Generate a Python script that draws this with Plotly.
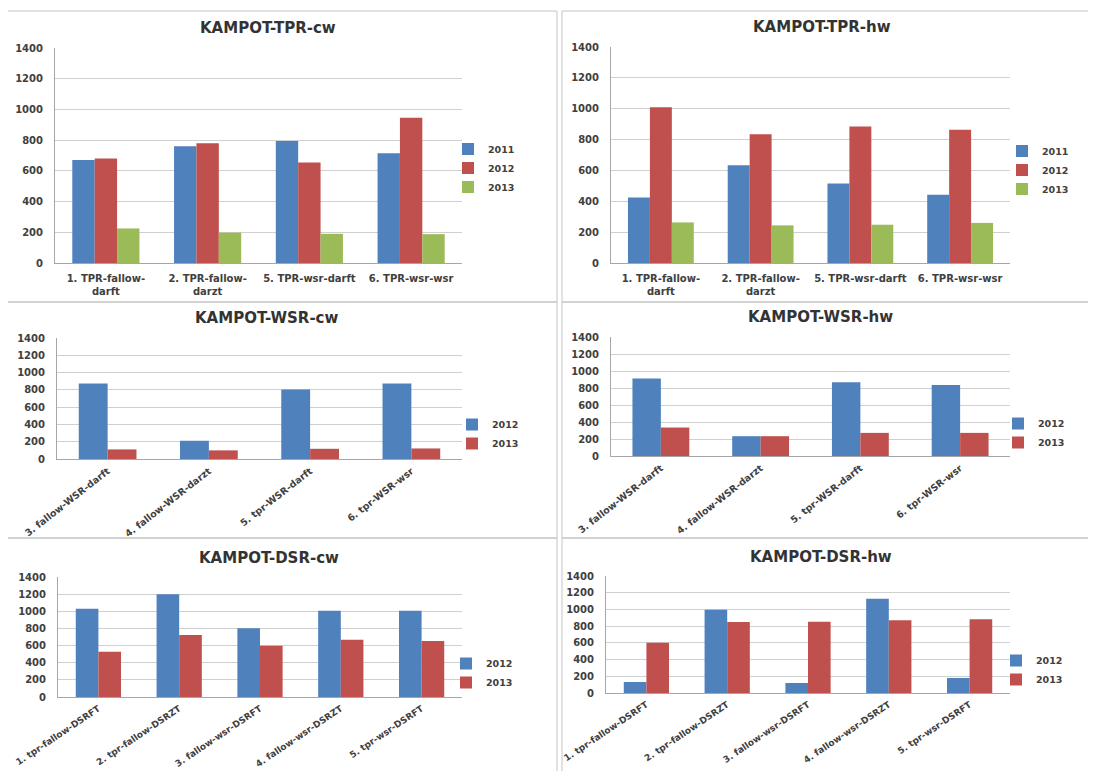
import plotly.graph_objects as go

W, H = 1096, 771
# the page body has an 8px default margin; positions below are given in
# screenshot pixels and shifted by it
OFF = 8

# ---------------- data ----------------
tpr_categories = ["1. TPR-fallow-darft", "2. TPR-fallow-darzt", "5. TPR-wsr-darft", "6. TPR-wsr-wsr"]
wsr_categories = ["3. fallow-WSR-darft", "4. fallow-WSR-darzt", "5. tpr-WSR-darft", "6. tpr-WSR-wsr"]
dsr_categories = ["1. tpr-fallow-DSRFT", "2. tpr-fallow-DSRZT", "3. fallow-wsr-DSRFT",
                  "4. fallow-wsr-DSRZT", "5. tpr-wsr-DSRFT"]

tpr_cw_2011 = [670, 760, 795, 715]
tpr_cw_2012 = [680, 780, 655, 945]
tpr_cw_2013 = [225, 198, 190, 188]

tpr_hw_2011 = [425, 633, 515, 443]
tpr_hw_2012 = [1010, 834, 885, 863]
tpr_hw_2013 = [263, 244, 248, 260]

wsr_cw_2012 = [875, 211, 805, 875]
wsr_cw_2013 = [111, 100, 118, 122]

wsr_hw_2012 = [911, 233, 867, 836]
wsr_hw_2013 = [335, 233, 272, 272]

dsr_cw_2012 = [1030, 1200, 802, 1005, 1005]
dsr_cw_2013 = [528, 724, 598, 668, 653]

dsr_hw_2012 = [132, 997, 120, 1129, 180]
dsr_hw_2013 = [602, 850, 854, 870, 882]

y_ticks = [0, 200, 400, 600, 800, 1000, 1200, 1400]

# ---------------- styles ----------------
BLUE, RED, GREEN = "#4F81BD", "#C0504D", "#9BBB59"
FONT = "DejaVu Sans"
TXT = "#404040"


def px(x):
    return (x - OFF) / W


def py(y):
    return 1 - (y - OFF) / H


def wrap_tpr(label):
    return label.replace("fallow-", "fallow-<br>")


panels = [
    dict(title="KAMPOT-TPR-cw", cats=tpr_categories, ticktext=[wrap_tpr(c) for c in tpr_categories],
         series=[("2011", tpr_cw_2011, BLUE), ("2012", tpr_cw_2012, RED), ("2013", tpr_cw_2013, GREEN)],
         xd=(55, 462), yd=(48, 263), tpos=(268, 28), leg=(448, 168), angle=0, xfont=10, bw=0.22, xs=6),
    dict(title="KAMPOT-TPR-hw", cats=tpr_categories, ticktext=[wrap_tpr(c) for c in tpr_categories],
         series=[("2011", tpr_hw_2011, BLUE), ("2012", tpr_hw_2012, RED), ("2013", tpr_hw_2013, GREEN)],
         xd=(611, 1010), yd=(47, 263), tpos=(822, 27), leg=(1002, 170), angle=0, xfont=10, bw=0.22, xs=6),
    dict(title="KAMPOT-WSR-cw", cats=wsr_categories, ticktext=wsr_categories,
         series=[("2012", wsr_cw_2012, BLUE), ("2013", wsr_cw_2013, RED)],
         xd=(57, 462), yd=(338, 459), tpos=(267, 318), leg=(452, 434), angle=-38, xfont=9.5, bw=0.285, xs=2),
    dict(title="KAMPOT-WSR-hw", cats=wsr_categories, ticktext=wsr_categories,
         series=[("2012", wsr_hw_2012, BLUE), ("2013", wsr_hw_2013, RED)],
         xd=(611, 1010), yd=(337, 456), tpos=(820, 317), leg=(998, 433), angle=-38, xfont=9.5, bw=0.285, xs=2),
    dict(title="KAMPOT-DSR-cw", cats=dsr_categories, ticktext=dsr_categories,
         series=[("2012", dsr_cw_2012, BLUE), ("2013", dsr_cw_2013, RED)],
         xd=(58, 462), yd=(577, 697), tpos=(269, 558), leg=(446, 673), angle=-34, xfont=9, bw=0.28, xs=2),
    dict(title="KAMPOT-DSR-hw", cats=dsr_categories, ticktext=dsr_categories,
         series=[("2012", dsr_hw_2012, BLUE), ("2013", dsr_hw_2013, RED)],
         xd=(606, 1010), yd=(576, 693), tpos=(821, 557), leg=(996, 670), angle=-34, xfont=9, bw=0.28, xs=2),
]

fig = go.Figure()
layout = dict(
    width=W, height=H, margin=dict(l=0, r=0, t=0, b=0, autoexpand=False),
    paper_bgcolor="white", plot_bgcolor="white",
    barmode="group", showlegend=True,
    font=dict(family=FONT, color=TXT),
)
annotations = []
shapes = []

for i, p in enumerate(panels, start=1):
    xa = "x" if i == 1 else f"x{i}"
    ya = "y" if i == 1 else f"y{i}"
    lg = "legend" if i == 1 else f"legend{i}"
    n = len(p["series"])
    bw = p["bw"]
    for k, (name, vals, col) in enumerate(p["series"]):
        off = -n * bw / 2 + k * bw
        fig.add_trace(go.Bar(
            x=p["cats"], y=vals, name=name, marker=dict(color=col, line=dict(width=0)),
            width=bw, offset=off, xaxis=xa, yaxis=ya, legend=lg,
        ))
    xk = "xaxis" if i == 1 else f"xaxis{i}"
    yk = "yaxis" if i == 1 else f"yaxis{i}"
    layout[xk] = dict(
        domain=[px(p["xd"][0]), px(p["xd"][1])], anchor=ya,
        type="category", categoryorder="array", categoryarray=p["cats"],
        tickvals=p["cats"], ticktext=p["ticktext"], tickangle=p["angle"],
        range=[-0.5, len(p["cats"]) - 0.5], automargin=False,
        showline=True, linecolor="#A6A6A6", linewidth=1, showgrid=False, ticks="",
        ticklabelstandoff=p["xs"],
        tickfont=dict(family=FONT, size=p["xfont"], color=TXT, weight="bold"),
        fixedrange=True,
    )
    layout[yk] = dict(
        domain=[py(p["yd"][1]), py(p["yd"][0])], anchor=xa,
        range=[0, 1400], tickvals=y_ticks, showgrid=True, gridcolor="#D0D0D0", gridwidth=1,
        showline=True, linecolor="#A6A6A6", linewidth=1, zeroline=False, ticks="",
        ticklabelstandoff=9, automargin=False,
        tickfont=dict(family=FONT, size=10, color=TXT, weight="bold"),
        fixedrange=True,
    )
    layout[lg] = dict(
        x=px(p["leg"][0]), y=py(p["leg"][1]), xanchor="left", yanchor="middle",
        bgcolor="rgba(0,0,0,0)", borderwidth=0, itemwidth=30,
        font=dict(family=FONT, size=9.5, color=TXT, weight="bold"),
        itemclick=False, itemdoubleclick=False,
    )
    annotations.append(dict(
        text=p["title"], x=px(p["tpos"][0]), y=py(p["tpos"][1]), xref="paper", yref="paper",
        xanchor="center", yanchor="middle", showarrow=False,
        font=dict(family=FONT, size=15, color="#333333", weight="bold"),
    ))

# panel frames
frames = [
    (6, 11, 557, 302), (562, 11, 1110, 302),
    (6, 302, 557, 538), (562, 302, 1110, 538),
    (6, 538, 557, 790), (562, 538, 1110, 790),
]
for (x0, y0, x1, y1) in frames:
    shapes.append(dict(type="rect", xref="paper", yref="paper",
                       x0=px(x0), x1=px(x1), y0=py(y1), y1=py(y0),
                       line=dict(color="#C4C4C4", width=1), fillcolor="rgba(0,0,0,0)", layer="below"))

layout["annotations"] = annotations
layout["shapes"] = shapes
fig.update_layout(**layout)

fig.write_html("out.html")
